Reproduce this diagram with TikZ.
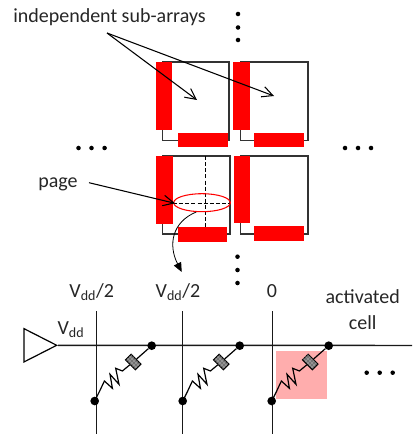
\documentclass[tikz,border=0pt]{standalone}
\usepackage{fontspec}
\setmainfont{Carlito}
\usetikzlibrary{arrows.meta,shapes.geometric,patterns}
\tikzset{
  redbar/.style={fill=red,draw=none},
  boxline/.style={draw=black!80,line width=1.1pt},
  wire/.style={line width=1.1pt,draw=black!90},
  lbl/.style={inner sep=0pt,font=\fontsize{15}{18}\selectfont,text=black!85},
  dotnode/.style={circle,fill=black,inner sep=0pt,minimum size=6.5pt},
  smalldot/.style={circle,fill=black,inner sep=0pt,minimum size=3.4pt},
  barb/.style={-{Straight Barb[length=8pt,width=8pt]},line width=0.8pt},
  dashline/.style={line width=0.9pt,dash pattern=on 3pt off 1.6pt},
  cellbox/.style={draw=black,line width=0.8pt,fill=black!55,postaction={pattern=crosshatch dots,pattern color=white},
    minimum width=10.5pt,minimum height=6pt,inner sep=0pt,rotate=-45}
}
\begin{document}
\begin{tikzpicture}[x=0.75pt,y=-0.75pt]
 \useasboundingbox (0,0) rectangle (412,435);
 %SUB-ARRAYS
 \draw[boxline] (162.5,62) rectangle (229,140.5);
 \draw[boxline] (240.5,62) rectangle (308,140.5);
 \draw[boxline] (162.5,156) rectangle (230,234);
 \draw[boxline] (240.5,156) rectangle (308,234);
 \fill[redbar] (155.5,62.5) rectangle (172,130);
 \fill[redbar] (178,133) rectangle (227.5,147);
 \fill[redbar] (232.5,62.5) rectangle (250,130);
 \fill[redbar] (254,133) rectangle (304,147);
 \fill[redbar] (156,156.3) rectangle (172.7,223.7);
 \fill[redbar] (177.7,227) rectangle (227.3,241.7);
 \fill[redbar] (234,156) rectangle (250.3,223);
 \fill[redbar] (254,226) rectangle (304,241);
 \draw[dashline] (205.3,156) -- (205.3,227);
 \draw[dashline] (173,203.7) -- (230,203.7);
 \fill[red!32!white] (276,350.7) rectangle (326.7,398.7);
 %NODES
 \node[lbl,anchor=west] (title) at (13,17) {independent sub-arrays};
 \node[lbl,anchor=west] (page) at (38,184) {page};
 \node[lbl] (half1) at (91.7,292) {V\textsubscript{dd}/2};
 \node[lbl] (half2) at (178,292) {V\textsubscript{dd}/2};
 \node[lbl] (zero) at (272,291) {0};
 \node[lbl] (act) at (362.7,297) {activated};
 \node[lbl] (cell) at (362.7,322.7) {cell};
 \node[lbl] (vdd) at (71,330) {V\textsubscript{dd}};
 \node[draw=red,line width=0.8pt,ellipse,inner sep=0pt,minimum width=42.5pt,minimum height=13.5pt] (ring) at (202,202.7) {};
 \node[draw=black,line width=0.9pt,isosceles triangle,isosceles triangle apex angle=54,inner sep=0pt,minimum height=24pt,minimum width=25pt,anchor=apex] (drv) at (58,345.3) {};
 \foreach \n/\y in {a/14,b/27.5,c/40} \node[smalldot] (top\n) at (238,\y) {};
 \foreach \n/\y in {a/256.7,b/270,c/283} \node[smalldot] (low\n) at (237.5,\y) {};
 \foreach \n/\x in {a/78.5,b/91.5,c/104.6} \node[smalldot] (left\n) at (\x,148) {};
 \foreach \n/\x in {a/345,b/358,c/371} \node[smalldot] (right\n) at (\x,148) {};
 \foreach \n/\x in {a/366.7,b/379.7,c/392.7} \node[smalldot] (more\n) at (\x,372.7) {};
 \coordinate (from) at (107,33);
 \coordinate (sub1) at (197,100);
 \coordinate (sub2) at (274,96);
 \coordinate (pagefrom) at (89,182.7);
 \coordinate (pageto) at (175,203.3);
 \coordinate (down) at (181.7,272);
 %EDGES
 \draw[barb] (from) -- (sub1);
 \draw[barb] (from) -- (sub2);
 \draw[barb] (pagefrom) -- (pageto);
 \draw[-{Triangle[length=7pt,width=6pt]},line width=0.6pt] (ring.-122) .. controls (172,222) and (168,245) .. (down);
 \coordinate (wa) at (96.5,311); \coordinate (wb) at (96.5,434);
 \draw[wire] (wa) -- (wb);
 \coordinate (wc) at (182.5,311); \coordinate (wd) at (182.5,434);
 \draw[wire] (wc) -- (wd);
 \coordinate (we) at (272.7,311); \coordinate (wf) at (272.7,434);
 \draw[wire] (we) -- (wf);
 \coordinate (wend) at (412,345.5);
 \draw[wire] (drv.apex) -- (wend);
 %CELLS
 \foreach \n/\x in {a/94.7,b/182.7,c/271.7}{
   \node[dotnode] (bot\n) at (\x,401) {};
   \node[dotnode] (up\n) at (\x+57,345.7) {};
   \node[cellbox] (res\n) at (\x+38.5,362) {};
   \draw[line width=0.9pt] (bot\n.center) -- ++(5,-10) -- ++(4.7,-10) -- ++(8,7.3) -- ++(-2.4,-14) -- ++(9,10) -- ++(-3.3,-16) -- ++(6.7,2.7) -- (res\n);
   \draw[line width=0.9pt] (res\n) -- (up\n);
 }
\end{tikzpicture}
\end{document}
